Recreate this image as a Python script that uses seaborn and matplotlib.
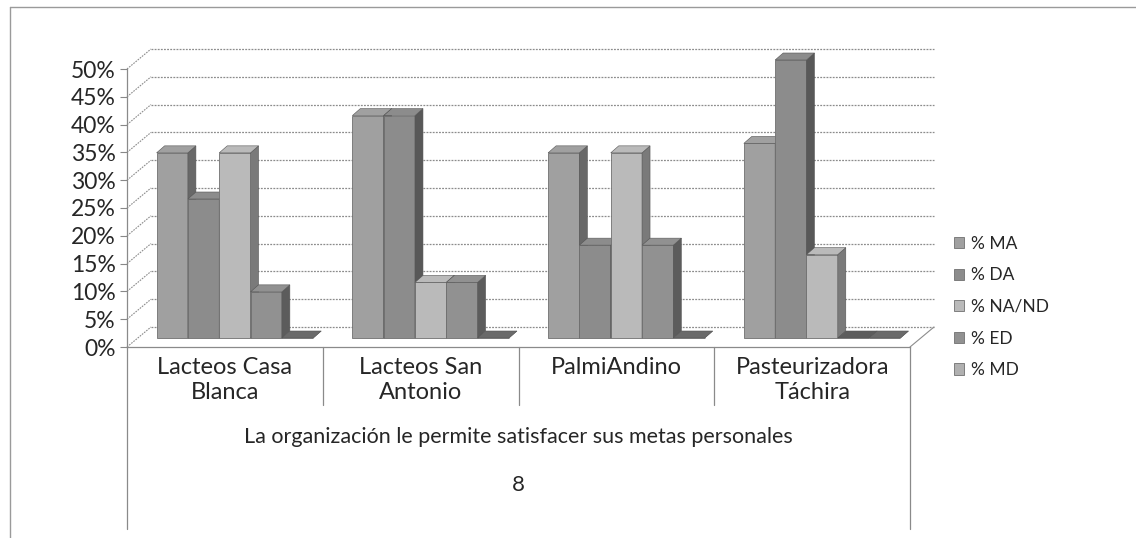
import numpy as np
import pandas as pd
import seaborn as sns
import matplotlib.pyplot as plt
from matplotlib.lines import Line2D
from matplotlib.patches import Polygon
from matplotlib.transforms import ScaledTranslation, blended_transform_factory

# datos (fraccion)
empresas = ["Lacteos Casa\nBlanca", "Lacteos San\nAntonio", "PalmiAndino", "Pasteurizadora\nTáchira"]
series = ["% MA", "% DA", "% NA/ND", "% ED", "% MD"]
pct_ma = [0.333, 0.40, 0.333, 0.35]
pct_da = [0.25, 0.40, 0.167, 0.50]
pct_nand = [0.333, 0.10, 0.333, 0.15]
pct_ed = [0.083, 0.10, 0.167, 0.0]
pct_md = [0.0, 0.0, 0.0, 0.0]
pregunta = "La organización le permite satisfacer sus metas personales"
item = "8"

grises = ["#a0a0a0", "#8c8c8c", "#bababa", "#919191", "#b0b0b0"]
laterales = ["#686868", "#585858", "#7a7a7a", "#5c5c5c", "#6a6a6a"]

rows = []
for s, vals in zip(series, [pct_ma, pct_da, pct_nand, pct_ed, pct_md]):
    for e, v in zip(empresas, vals):
        rows.append({"empresa": e, "serie": s, "valor": v})
df = pd.DataFrame(rows)

sns.set_style("white")
plt.rcParams['font.family'] = ['Lato', 'DejaVu Sans']

W, H = 1136, 538
fig = plt.figure(figsize=(W / 100, H / 100), dpi=100)
# area frontal: x 127..910, 0% en y=347, 50% en y=69
ax = fig.add_axes([127 / W, (H - 347) / H, 783 / W, 278 / H])

sns.barplot(data=df, x="empresa", y="valor", hue="serie", palette=grises,
            saturation=1, width=0.8, ax=ax, edgecolor="#707070", linewidth=0.6)

ax.set_xlim(-0.5, 3.5)
ax.set_ylim(0, 0.5)
ax.set_xlabel("")
ax.set_ylabel("")
ticks = np.arange(0, 0.501, 0.05)
ax.set_yticks(ticks)
ax.set_yticklabels([f"{int(round(t * 100))}%" for t in ticks], fontsize=16.5)
ax.tick_params(axis="y", length=5, width=0.8, color="#888888", pad=3, left=True)
ax.set_xticks([])
for sp in ["top", "right"]:
    ax.spines[sp].set_visible(False)
for sp in ["left", "bottom"]:
    ax.spines[sp].set_color("#8a8a8a")
    ax.spines[sp].set_linewidth(0.9)

px_x = 783 / 4      # pixeles por categoria
px_y = 278 / 0.5    # pixeles por unidad

# pared del fondo (desplazada)
bdx, bdy = 24 / px_x, 20 / px_y
for t in ticks:
    ax.plot([-0.5 + bdx, 3.5 + bdx], [t + bdy, t + bdy], color="#8c8c8c", lw=0.9,
            ls=(0, (1.5, 1)), clip_on=False, zorder=0.5)
    ax.plot([-0.5, -0.5 + bdx], [t, t + bdy], color="#8c8c8c", lw=0.8,
            ls=(0, (1.5, 1)), clip_on=False, zorder=0.5)
ax.plot([3.5, 3.5 + bdx], [0, bdy], color="#8c8c8c", lw=0.8, clip_on=False, zorder=0.5)

# barras con efecto 3D
shift = ax.transData + ScaledTranslation(10 / 100, 9 / 100, fig.dpi_scale_trans)
ddx, ddy = 8 / px_x, 7 / px_y
for k, cont in enumerate(ax.containers):
    for bar in cont:
        x0, w, h = bar.get_x(), bar.get_width(), bar.get_height()
        bar.set_transform(shift)
        bar.set_clip_on(False)
        bar.set_zorder(2 + 0.1 * k)
        side = Polygon([[x0 + w, 0], [x0 + w, h], [x0 + w + ddx, h + ddy], [x0 + w + ddx, ddy]],
                       closed=True, facecolor=laterales[k], edgecolor="#555555", lw=0.4,
                       transform=shift, zorder=2 + 0.1 * k + 0.05, clip_on=False)
        top = Polygon([[x0, h], [x0 + w, h], [x0 + w + ddx, h + ddy], [x0 + ddx, h + ddy]],
                      closed=True, facecolor=laterales[k] if h == 0 else grises[k],
                      edgecolor="#555555", lw=0.4, transform=shift,
                      zorder=2 + 0.1 * k + 0.05, clip_on=False)
        ax.add_patch(side)
        ax.add_patch(top)

# tabla de categorias bajo el eje
tb = blended_transform_factory(ax.transData, ax.transAxes)


def fy(py):
    return -(py - 347) / 278


for i, xe in enumerate([-0.5, 0.5, 1.5, 2.5, 3.5]):
    y_end = fy(529) if i in (0, 4) else fy(405)
    ax.plot([xe, xe], [0, y_end], color="#8a8a8a", lw=0.9, transform=tb, clip_on=False)
for i, e in enumerate(empresas):
    ax.text(i, fy(357), e, transform=tb, ha="center", va="top", fontsize=17,
            linespacing=1.25)
ax.text(1.5, fy(437), pregunta, transform=tb, ha="center", va="center", fontsize=15.5)
ax.text(1.5, fy(485), item, transform=tb, ha="center", va="center", fontsize=16)

# leyenda
handles, labels = ax.get_legend_handles_labels()
leg = ax.legend(handles, labels, loc="upper left", bbox_to_anchor=(938 / W, (H - 220) / H),
                bbox_transform=fig.transFigure, frameon=False, fontsize=12.5,
                handlelength=0.6, handleheight=0.6, handletextpad=0.4, labelspacing=0.9)

# marco exterior
fig.add_artist(Line2D([10 / W, 1], [(H - 7) / H, (H - 7) / H], color="#9a9a9a", lw=1))
fig.add_artist(Line2D([10 / W, 10 / W], [0, (H - 7) / H], color="#9a9a9a", lw=1))

fig.savefig("out.png", dpi=100)
